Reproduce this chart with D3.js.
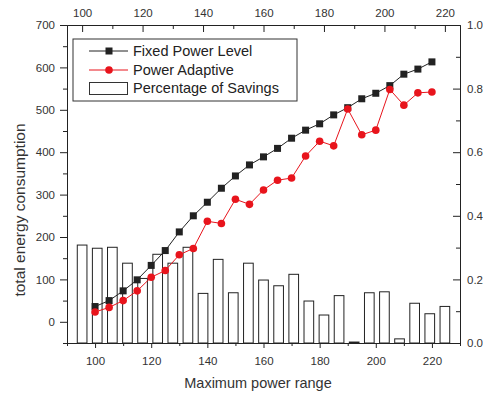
<!DOCTYPE html>
<html>
<head>
<meta charset="utf-8">
<script src="https://cdn.jsdelivr.net/npm/d3@7"></script>
<style>
  body { margin: 0; background: #fff; }
  text { font-family: "Liberation Sans", Arial, sans-serif; fill: #222; }
</style>
</head>
<body>
<div id="chart"></div>
<script>
// power range values (same for both series and the bars)
var powerRange = [100,105,110,115,120,125,130,135,140,145,150,155,160,165,170,175,180,185,190,195,200,205,210,215,220];
var fixedPower = [36,50,73,99,133,168,212,250,282,315,344,370,389,409,433,452,467,488,505,526,539,557,584,596,613];
var adaptivePower = [23,34,50,73,105,121,158,173,237,232,289,277,311,334,339,391,426,415,502,441,452,548,511,540,542];
var savings = [0.308,0.298,0.301,0.251,0.203,0.279,0.251,0.301,0.156,0.263,0.158,0.251,0.198,0.180,0.216,0.132,0.088,0.149,0.003,0.158,0.161,0.013,0.125,0.092,0.115];

var rangeTicks = [100,120,140,160,180,200,220];
var rangeMinor = [90,110,130,150,170,190,210,230];
var energyTicks = [0,100,200,300,400,500,600,700];
var energyMinor = [-50,50,150,250,350,450,550,650];
var savingTicks = [0,0.2,0.4,0.6,0.8,1.0];
var savingMinor = [0.1,0.3,0.5,0.7,0.9];

var margin = {top: 25, right: 23, bottom: 53, left: 67},
    width = 483 - margin.left - margin.right,
    height = 396 - margin.top - margin.bottom;

var x = d3.scaleLinear().domain([90, 230]).range([0, width]);
var xTop = d3.scaleLinear().domain([95, 225]).range([0, width]);
var y = d3.scaleLinear().domain([-50, 700]).range([height, 0]);
var yRight = d3.scaleLinear().domain([0, 1]).range([height, 0]);

var svg = d3.select("#chart").append("svg")
    .attr("width", 483)
    .attr("height", 396);

var g = svg.append("g")
    .attr("transform", "translate(" + margin.left + "," + margin.top + ")");

// bars (percentage of savings, on the top / right axes)
var barHalf = 1.6;
g.selectAll(".bar")
    .data(powerRange)
    .enter().append("rect")
    .attr("class", "bar")
    .attr("x", function (d) { return xTop(d - barHalf); })
    .attr("width", function (d) { return xTop(d + barHalf) - xTop(d - barHalf); })
    .attr("y", function (d, i) { return yRight(savings[i]); })
    .attr("height", function (d, i) { return yRight(0) - yRight(savings[i]); })
    .style("fill", "#fff")
    .style("stroke", "#222")
    .style("stroke-width", 1);

var series = [
    {name: "Fixed Power Level", values: fixedPower, color: "#222", shape: "square"},
    {name: "Power Adaptive", values: adaptivePower, color: "#e8141c", shape: "circle"}
];

var line = d3.line()
    .x(function (d, i) { return x(powerRange[i]); })
    .y(function (d) { return y(d); });

series.forEach(function (s) {
    g.append("path")
        .attr("d", line(s.values))
        .style("fill", "none")
        .style("stroke", s.color)
        .style("stroke-width", 1);
    if (s.shape === "square") {
        g.selectAll(".sq")
            .data(s.values)
            .enter().append("rect")
            .attr("class", "sq")
            .attr("x", function (d, i) { return x(powerRange[i]) - 3.5; })
            .attr("y", function (d) { return y(d) - 3.5; })
            .attr("width", 7)
            .attr("height", 7)
            .style("fill", s.color);
    } else {
        g.selectAll(".dot")
            .data(s.values)
            .enter().append("circle")
            .attr("class", "dot")
            .attr("cx", function (d, i) { return x(powerRange[i]); })
            .attr("cy", function (d) { return y(d); })
            .attr("r", 3.8)
            .style("fill", s.color);
    }
});

// axes
function styleAxis(sel) {
    sel.selectAll("path").style("stroke", "#222");
    sel.selectAll("line").style("stroke", "#222");
    sel.selectAll("text").style("font-size", "11.5px").style("fill", "#333")
        .style("font-family", "'Liberation Sans', Arial, sans-serif");
}

g.append("g")
    .attr("transform", "translate(0," + height + ")")
    .call(d3.axisBottom(x).tickValues(rangeTicks).tickSize(5).tickSizeOuter(0).tickPadding(9))
    .call(styleAxis);
g.append("g")
    .attr("transform", "translate(0," + height + ")")
    .call(d3.axisBottom(x).tickValues(rangeMinor).tickSize(3).tickSizeOuter(0).tickFormat(""))
    .call(styleAxis);

g.append("g")
    .call(d3.axisTop(xTop).tickValues(rangeTicks).tickSize(-7).tickSizeOuter(0).tickPadding(8))
    .call(styleAxis);
g.append("g")
    .call(d3.axisTop(xTop).tickValues(d3.range(110, 230, 20)).tickSize(-4).tickSizeOuter(0).tickFormat(""))
    .call(styleAxis);

g.append("g")
    .call(d3.axisLeft(y).tickValues(energyTicks).tickSize(7).tickSizeOuter(0).tickPadding(5))
    .call(styleAxis);
g.append("g")
    .call(d3.axisLeft(y).tickValues(energyMinor).tickSize(4).tickSizeOuter(0).tickFormat(""))
    .call(styleAxis);

g.append("g")
    .attr("transform", "translate(" + width + ",0)")
    .call(d3.axisRight(yRight).tickValues(savingTicks).tickSize(-7).tickSizeOuter(0).tickPadding(7).tickFormat(d3.format(".1f")))
    .call(styleAxis);
g.append("g")
    .attr("transform", "translate(" + width + ",0)")
    .call(d3.axisRight(yRight).tickValues(savingMinor).tickSize(-4).tickSizeOuter(0).tickFormat(""))
    .call(styleAxis);

// axis titles
svg.append("text")
    .attr("x", 258)
    .attr("y", 388)
    .attr("text-anchor", "middle")
    .style("font-size", "14.5px")
    .style("fill", "#333")
    .text("Maximum power range");

svg.append("text")
    .attr("transform", "translate(25,210) rotate(-90)")
    .attr("text-anchor", "middle")
    .style("font-size", "15.5px")
    .style("fill", "#333")
    .text("total energy consumption");

// legend
var legend = svg.append("g");
legend.append("rect")
    .attr("x", 73).attr("y", 39)
    .attr("width", 224).attr("height", 62)
    .style("fill", "#fff")
    .style("stroke", "#333")
    .style("stroke-width", 1);

series.forEach(function (s, i) {
    var ly = 51 + i * 19;
    legend.append("line")
        .attr("x1", 89).attr("x2", 128)
        .attr("y1", ly).attr("y2", ly)
        .style("stroke", s.color);
    if (s.shape === "square") {
        legend.append("rect")
            .attr("x", 105.5).attr("y", ly - 3.5)
            .attr("width", 7).attr("height", 7)
            .style("fill", s.color);
    } else {
        legend.append("circle")
            .attr("cx", 109).attr("cy", ly).attr("r", 3.8)
            .style("fill", s.color);
    }
    legend.append("text")
        .attr("x", 133).attr("y", ly + 5)
        .style("font-size", "14.5px")
        .text(s.name);
});
legend.append("rect")
    .attr("x", 89.5).attr("y", 82.5)
    .attr("width", 38).attr("height", 12)
    .style("fill", "#fff")
    .style("stroke", "#333");
legend.append("text")
    .attr("x", 133).attr("y", 93)
    .style("font-size", "14.5px")
    .text("Percentage of Savings");
</script>
</body>
</html>
